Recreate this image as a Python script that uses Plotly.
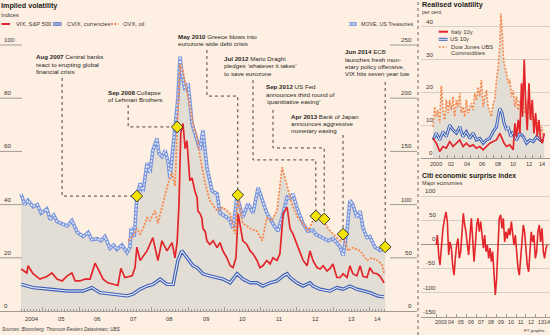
import plotly.graph_objects as go

# ---------------- DATA ----------------
# Main chart (implied volatility), dates as decimal years
vix_dates = [2004.40, 2004.56, 2004.59, 2004.73, 2004.92, 2005.11, 2005.25, 2005.39, 2005.53, 2005.67,
             2005.80, 2005.89, 2006.02, 2006.16, 2006.30, 2006.44, 2006.52, 2006.66, 2006.79, 2006.93,
             2007.07, 2007.15, 2007.26, 2007.46, 2007.54, 2007.59, 2007.68, 2007.87, 2008.03, 2008.17,
             2008.28, 2008.42, 2008.56, 2008.64, 2008.70, 2008.75, 2008.80, 2008.86, 2008.92, 2008.97,
             2009.05, 2009.11, 2009.14, 2009.19, 2009.25, 2009.27, 2009.33, 2009.38, 2009.41, 2009.47,
             2009.52, 2009.60, 2009.69, 2009.80, 2009.88, 2009.96, 2010.07, 2010.16, 2010.24, 2010.32,
             2010.38, 2010.43, 2010.51, 2010.62, 2010.71, 2010.79, 2010.90, 2010.98, 2011.06, 2011.17,
             2011.26, 2011.34, 2011.45, 2011.53, 2011.62, 2011.73, 2011.81, 2011.89, 2012.00, 2012.08,
             2012.17, 2012.28, 2012.36, 2012.44, 2012.55, 2012.64, 2012.72, 2012.83, 2012.91, 2012.99,
             2013.10, 2013.19, 2013.27, 2013.38, 2013.46, 2013.54, 2013.65, 2013.74, 2013.82, 2013.93,
             2014.01, 2014.10, 2014.21, 2014.29, 2014.40]
vix = [15.8, 14.3, 17.0, 14.0, 12.0, 13.0, 14.3, 12.0, 11.3, 13.2,
       14.3, 11.3, 11.3, 12.0, 12.0, 18.0, 15.8, 12.0, 10.6, 10.0,
       9.6, 16.0, 12.6, 13.2, 16.3, 24.0, 19.0, 22.6, 27.6, 19.0,
       26.4, 22.6, 25.7, 20.0, 26.0, 40.0, 67.0, 70.5, 61.0, 64.0,
       49.0, 50.0, 48.0, 45.0, 42.6, 37.7, 36.6, 35.0, 31.0, 30.0,
       26.4, 25.0, 26.4, 23.8, 25.7, 22.6, 20.0, 17.0, 16.3, 20.0,
       36.6, 33.0, 26.4, 25.0, 22.6, 21.5, 19.0, 16.3, 17.0, 19.0,
       17.7, 20.0, 19.0, 21.5, 36.6, 39.0, 31.0, 29.0, 25.0, 22.6,
       19.0, 17.0, 22.6, 19.0, 16.3, 15.8, 17.0, 15.0, 16.0, 17.7,
       12.6, 12.6, 14.0, 12.6, 17.0, 14.0, 13.2, 17.0, 13.0, 12.6,
       16.3, 14.3, 14.0, 13.0, 10.6]

cvix_dates = [2004.40, 2004.73, 2005.20, 2005.67, 2006.11, 2006.35, 2006.57, 2007.04, 2007.32, 2007.48,
              2007.68, 2007.87, 2008.03, 2008.23, 2008.42, 2008.59, 2008.72, 2008.83, 2008.97, 2009.14,
              2009.25, 2009.41, 2009.60, 2009.80, 2009.96, 2010.16, 2010.35, 2010.51, 2010.71, 2010.90,
              2011.06, 2011.26, 2011.45, 2011.62, 2011.73, 2011.81, 2012.00, 2012.17, 2012.36, 2012.44,
              2012.64, 2012.91, 2013.10, 2013.27, 2013.46, 2013.65, 2013.82, 2014.01, 2014.21, 2014.40]
cvix = [10.0, 8.8, 8.2, 7.5, 7.5, 8.8, 6.9, 6.3, 5.7, 6.3,
        8.2, 9.4, 10.0, 12.0, 10.0, 10.0, 19.0, 22.6, 20.0, 17.0,
        16.3, 14.0, 13.2, 12.6, 12.0, 10.6, 14.0, 12.0, 10.6, 10.6,
        9.4, 10.6, 11.3, 13.2, 14.0, 12.6, 10.6, 9.4, 10.6, 9.4,
        8.2, 7.5, 8.8, 8.2, 9.4, 8.2, 7.5, 6.9, 5.7, 5.3]

ovx_dates = [2007.35, 2007.48, 2007.59, 2007.68, 2007.76, 2007.87, 2007.95, 2008.09, 2008.17, 2008.28,
             2008.37, 2008.45, 2008.56, 2008.64, 2008.70, 2008.78, 2008.86, 2008.97, 2009.05, 2009.14,
             2009.25, 2009.33, 2009.41, 2009.47, 2009.55, 2009.60, 2009.80, 2009.96, 2010.16, 2010.29,
             2010.38, 2010.51, 2010.71, 2010.90, 2011.04, 2011.17, 2011.31, 2011.45, 2011.59, 2011.67,
             2011.75, 2011.89, 2012.03, 2012.17, 2012.30, 2012.44, 2012.55, 2012.72, 2012.86, 2012.99,
             2013.19, 2013.27, 2013.41, 2013.54, 2013.74, 2013.93, 2014.07, 2014.21, 2014.34, 2014.40]
ovx = [26.4, 28.0, 31.0, 29.0, 31.0, 35.0, 34.0, 37.7, 33.0, 39.0,
       44.0, 48.0, 52.0, 47.0, 68.0, 93.0, 90.0, 83.0, 77.0, 70.0,
       65.0, 58.0, 52.0, 48.0, 44.0, 41.5, 37.7, 39.0, 36.6, 29.0,
       42.3, 33.0, 31.0, 30.0, 26.4, 35.0, 34.0, 37.7, 54.0, 50.0,
       46.0, 39.0, 35.0, 33.0, 30.0, 34.0, 36.0, 34.0, 31.0, 29.0,
       26.4, 28.3, 22.6, 23.8, 22.6, 19.0, 20.0, 19.0, 17.7, 14.3]

move_dates = [2004.40, 2004.50, 2004.59, 2004.73, 2004.85, 2004.95, 2005.11, 2005.20, 2005.30, 2005.39,
              2005.53, 2005.67, 2005.80, 2005.95, 2006.11, 2006.25, 2006.35, 2006.50, 2006.60, 2006.71,
              2006.85, 2006.95, 2007.04, 2007.18, 2007.32, 2007.40, 2007.43, 2007.52, 2007.59, 2007.68,
              2007.76, 2007.87, 2007.95, 2008.03, 2008.14, 2008.20, 2008.28, 2008.37, 2008.45, 2008.50,
              2008.64, 2008.72, 2008.78, 2008.83, 2008.92, 2009.00, 2009.11, 2009.25, 2009.33, 2009.41,
              2009.52, 2009.66, 2009.80, 2009.88, 2010.07, 2010.16, 2010.24, 2010.35, 2010.51, 2010.65,
              2010.79, 2010.93, 2011.04, 2011.17, 2011.34, 2011.48, 2011.62, 2011.73, 2011.81, 2011.89,
              2012.00, 2012.17, 2012.30, 2012.44, 2012.52, 2012.64, 2012.75, 2012.86, 2013.00, 2013.19,
              2013.27, 2013.38, 2013.46, 2013.54, 2013.65, 2013.74, 2013.82, 2013.93, 2014.01, 2014.15,
              2014.29, 2014.43]
move = [110, 100, 104, 98, 100, 92, 96, 86, 90, 84,
        82, 80, 85, 74, 70, 74, 67, 68, 66, 70,
        59, 62, 58, 62, 55, 60, 78, 70, 108, 120,
        112, 139, 130, 151, 162, 148, 145, 151, 140, 125,
        172, 200, 239, 223, 207, 214, 176, 160, 151, 170,
        135, 113, 110, 92, 88, 85, 78, 108, 88, 101,
        92, 116, 104, 92, 82, 75, 92, 107, 106, 110,
        97, 82, 75, 76, 72, 70, 68, 66, 68, 60,
        52, 75, 104, 100, 88, 94, 78, 69, 70, 60,
        57, 60]

main_left_ticks = [0, 20, 40, 60, 80, 100]
main_right_ticks = [0, 50, 100, 150, 200, 250]
main_years = list(range(2004, 2015))
main_year_labels = ["2004", "05", "06", "07", "08", "09", "10", "11", "12", "13", "14"]

event_dates = [2007.59, 2008.70, 2010.37, 2012.52, 2012.75, 2013.27, 2014.43]
event_vals = [43.2, 69.2, 43.6, 35.7, 34.6, 28.9, 24.1]
event_titles = ["Aug 2007", "Sep 2008", "May 2010", "Jul 2012", "Sep 2012", "Apr 2013", "Jun 2014"]
event_texts = [
    ["Central banks", "react to erupting global", "financial crisis"],
    ["Collapse", "of Lehman Brothers"],
    ["Greece blows into", "eurozone wide debt crisis"],
    ["Mario Draghi", "pledges \u2018whatever it takes\u2019", "to save eurozone"],
    ["US Fed", "announces third round of", "\u2018quantitative easing\u2019"],
    ["Bank of Japan", "announces aggressive", "monetary easing"],
    ["ECB", "launches fresh mon-", "etary policy offensive,", "VIX hits seven year low"],
]

# Realised volatility panel
dj_dates = [2000.19, 2000.41, 2000.62, 2000.83, 2001.05, 2001.26, 2001.47, 2001.69, 2001.90,
            2002.12, 2002.33, 2002.54, 2002.76, 2002.97, 2003.19, 2003.40, 2003.62, 2003.83,
            2004.04, 2004.26, 2004.47, 2004.69, 2005.11, 2005.33, 2005.54, 2005.76, 2005.97,
            2006.19, 2006.40, 2006.62, 2006.83, 2007.04, 2007.26, 2007.47, 2007.69, 2007.90,
            2008.12, 2008.33, 2008.55, 2008.76, 2008.89, 2009.06, 2009.23, 2009.40, 2009.62, 2009.83,
            2010.04, 2010.26, 2010.47, 2010.69, 2010.90, 2011.12, 2011.33, 2011.54, 2011.76, 2011.97,
            2012.19, 2012.40, 2012.62, 2012.83, 2013.05, 2013.26, 2013.48, 2013.69, 2013.90,
            2014.12, 2014.33]
djubs = [9.5, 15.6, 12.6, 14.6, 10.6, 22.0, 14.6, 11.6, 17.7,
         13.7, 17.7, 14.6, 18.7, 12.6, 17.7, 15.6, 19.7, 13.7,
         15.6, 12.6, 17.7, 13.7, 16.7, 14.6, 19.7, 17.7, 21.7,
         18.7, 23.8, 15.6, 18.7, 20.7, 15.6, 13.7, 12.6, 16.7,
         17.7, 23.8, 27.8, 34.0, 44.0, 39.0, 30.0, 27.8, 25.8, 22.8,
         23.8, 18.7, 20.7, 15.6, 18.7, 14.6, 17.7, 15.6, 17.7, 13.7,
         15.6, 17.7, 12.6, 11.6, 12.6, 9.5, 11.6, 9.5, 7.5,
         9.5, 6.5]

us10_dates = [2000.19, 2000.62, 2001.05, 2001.47, 2001.90, 2002.33, 2002.76, 2003.19, 2003.62, 2004.04,
              2004.47, 2004.90, 2005.33, 2005.76, 2006.19, 2006.62, 2007.04, 2007.47, 2007.90, 2008.33,
              2008.55, 2008.76, 2009.06, 2009.31, 2009.62, 2009.83, 2010.17, 2010.47, 2010.90, 2011.33,
              2011.76, 2012.19, 2012.62, 2013.05, 2013.48, 2013.90, 2014.33]
us10 = [5.5, 7.6, 5.5, 8.0, 6.5, 10.0, 8.5, 7.6, 9.5, 6.5,
        8.0, 6.0, 7.6, 5.5, 6.0, 4.5, 5.5, 6.0, 8.0, 9.5,
        12.6, 15.1, 13.6, 10.6, 8.5, 9.5, 6.5, 8.0, 5.5, 7.5,
        6.5, 4.5, 5.5, 5.0, 6.5, 5.5, 5.0]

italy_dates = [2000.19, 2000.62, 2001.05, 2001.47, 2001.90, 2002.33, 2002.76, 2003.19, 2003.62, 2004.04,
               2004.47, 2004.90, 2005.33, 2005.76, 2006.19, 2006.62, 2007.04, 2007.47, 2007.90, 2008.33,
               2008.76, 2009.06, 2009.31, 2009.62, 2010.04, 2010.47, 2010.69, 2010.90, 2011.12, 2011.33,
               2011.54, 2011.67, 2011.89, 2012.06, 2012.27, 2012.49, 2012.70, 2012.92, 2013.13, 2013.35,
               2013.56, 2013.78, 2013.99, 2014.20, 2014.46]
italy = [6.0, 4.5, 2.0, 3.5, 3.0, 5.0, 3.5, 4.5, 5.5, 3.5,
         4.5, 3.5, 4.0, 3.0, 3.5, 2.5, 3.5, 4.5, 5.0, 5.5,
         7.5, 6.0, 4.5, 3.5, 4.0, 2.5, 10.6, 6.5, 11.6, 7.5,
         22.8, 12.6, 30.0, 17.7, 8.5, 22.8, 11.6, 17.7, 7.5, 13.7,
         6.5, 11.6, 5.5, 4.5, 7.5]

rv_y_ticks = [0, 10, 20, 30, 40]
rv_years = list(range(2000, 2015, 2))
rv_year_labels = ["2000", "02", "04", "06", "08", "10", "12", "14"]

# Citi economic surprise index
citi_dates = [2002.99,
              2003.09, 2003.23, 2003.36, 2003.49, 2003.66, 2003.83, 2003.96,
              2004.10, 2004.23, 2004.36, 2004.50, 2004.63, 2004.77, 2004.90,
              2005.03, 2005.17, 2005.30, 2005.44, 2005.57, 2005.70, 2005.84, 2005.97,
              2006.11, 2006.24, 2006.38, 2006.51, 2006.64, 2006.78, 2006.91,
              2007.05, 2007.18, 2007.31, 2007.45, 2007.58, 2007.72, 2007.85, 2007.98,
              2008.12, 2008.25, 2008.39, 2008.52, 2008.65, 2008.79, 2008.92,
              2009.05, 2009.19, 2009.32, 2009.46, 2009.59, 2009.72, 2009.86, 2009.99,
              2010.12, 2010.26, 2010.39, 2010.53, 2010.66, 2010.79, 2010.93,
              2011.06, 2011.20, 2011.33, 2011.46, 2011.60, 2011.73, 2011.86,
              2012.00, 2012.13, 2012.27, 2012.40, 2012.53, 2012.67, 2012.80, 2012.94,
              2013.07, 2013.20, 2013.34, 2013.47, 2013.61, 2013.74, 2013.87,
              2014.01, 2014.14]
citi = [-1.5,
        19, -22, -43, -8, 33, 54, 67,
        47, -22, 5, -8, -43, -64, -29,
        -1.5, 12, -29, -15, 40, 64, 40, 26,
        -1.5, -22, 19, 54, 12, -36, -1.5,
        40, 54, 26, 47, 12, -8, 19, -15,
        -1.5, -29, -8, -36, -15, -57, -105,
        -70, -8, 54, 61, 33, 54, 5, 26,
        12, 33, 19, 47, 26, -1.5, 19,
        -15, -50, -64, -29, 5, 40, 26,
        -8, -43, -57, -8, 26, 5, 19, -29,
        -15, 26, 40, 5, 33, -15, -29,
        -8, -1.5]

citi_y_ticks = [-150, -100, -50, 0, 50, 100]
citi_years = list(range(2003, 2015))
citi_year_labels = ["2003", "04", "05", "06", "07", "08", "09", "10", "11", "12", "13", "14"]

# ---------------- STYLE / LAYOUT HELPERS ----------------
W, H = 550, 335
def X(px): return px / W
def Y(py): return 1 - py / H

BG = "#fdf0e2"
GREY = "#e3ded5"
RED = "#e2262b"
BLUE = "#3c5db6"
BLUE_IN = "#e8ecf8"
MOVEC = "#7b96dc"
MOVE_IN = "#eef1fa"
ORANGE = "#f6874d"
TXT = "#3a3633"
DARK = "#1f1c1a"
AX = "#a09a93"
GRID = "#d5cec5"
FONT = "Liberation Sans Narrow, Liberation Sans, Arial, sans-serif"
ODASH = "2px,1.5px"
S_BODY = 6.2     # event text
S_AXIS = 6.2     # axis numbers
S_LEG = 5.8      # legend text
S_TITLE = 7.2

# pixel <-> axis mappings (layout geometry)
def mx(px): return 2005.5 + (px - 61) / 36.3      # main chart year at pixel
MAIN_BOT, MAIN_TOP, MAIN_PPU = 311, 28, 2.66
main_ytop = (MAIN_BOT - MAIN_TOP) / MAIN_PPU
MOVE_SCALE = 2.5
def rx(px): return 2000.5 + (px - 435.4) / 7.8    # realised panel
RV_BOT, RV_TOP, RV_PPU = 158, 10, 3.28
def cx(px): return 2003.5 + (px - 441.4) / 9.95   # citi panel
C_ZERO, C_PPU, C_TOP = 244.3, 0.4828, 186

fig = go.Figure()

def fill_tr(x, y, xa, ya):
    fig.add_trace(go.Scatter(x=x, y=y, xaxis=xa, yaxis=ya, mode="lines",
                             line=dict(width=0, color=GREY), fill="tozeroy",
                             fillcolor=GREY, hoverinfo="skip", showlegend=False))

def line_tr(x, y, xa, ya, color, width, dash="solid"):
    fig.add_trace(go.Scatter(x=x, y=y, xaxis=xa, yaxis=ya, mode="lines",
                             line=dict(color=color, width=width, dash=dash),
                             hoverinfo="skip", showlegend=False))

# ---- main chart ----
fill_tr(ovx_dates, ovx, "x", "y")
fill_tr(vix_dates, vix, "x", "y")
fill_tr(move_dates, move, "x", "y2")
line_tr(move_dates, move, "x", "y2", MOVEC, 3.6)
line_tr(move_dates, move, "x", "y2", MOVE_IN, 1.3, "2px,1.6px")
line_tr(cvix_dates, cvix, "x", "y3", BLUE, 3.4)
line_tr(cvix_dates, cvix, "x", "y3", BLUE_IN, 1.1)
line_tr(ovx_dates, ovx, "x", "y3", ORANGE, 1.8, ODASH)
line_tr(vix_dates, vix, "x", "y3", RED, 1.7)

# leader lines (annotation geometry, data coords), ending at each event diamond
leader_paths = [
    [(2005.53, 87.6), (2005.53, 43.2)],
    [(2007.35, 77.4), (2007.35, 69.2)],
    [(2009.52, 98.1), (2009.52, 80.8), (2010.37, 80.8)],
    [(2010.79, 86.8), (2010.79, 56.8), (2012.52, 56.8)],
    [(2011.34, 75.6), (2011.34, 61.3), (2012.75, 61.3)],
    [(2013.27, 66.2)],
    [(2014.43, 86.1)],
]
lx, ly = [], []
for path, d, v in zip(leader_paths, event_dates, event_vals):
    for (a, b) in path:
        lx.append(a); ly.append(b)
    lx += [d, None]; ly += [v, None]
fig.add_trace(go.Scatter(x=lx, y=ly, xaxis="x", yaxis="y3", mode="lines",
                         line=dict(color="#4a4643", width=1, dash="dot"),
                         hoverinfo="skip", showlegend=False))
fig.add_trace(go.Scatter(x=event_dates, y=event_vals, xaxis="x", yaxis="y3", mode="markers",
                         marker=dict(symbol="diamond", size=9, color="#f3e300",
                                     line=dict(color="#3a3a3a", width=1)),
                         cliponaxis=False, hoverinfo="skip", showlegend=False))

# ---- realised volatility ----
fill_tr(dj_dates, djubs, "x2", "y4")
fill_tr(italy_dates, italy, "x2", "y4")
fill_tr(us10_dates, us10, "x2", "y4")
line_tr(dj_dates, djubs, "x2", "y4", ORANGE, 1.6, ODASH)
line_tr(us10_dates, us10, "x2", "y4", BLUE, 3.0)
line_tr(us10_dates, us10, "x2", "y4", BLUE_IN, 1.0)
line_tr(italy_dates, italy, "x2", "y4", RED, 1.7)

# ---- citi ----
line_tr(citi_dates, citi, "x3", "y5", RED, 1.6)

# ---------------- axes ----------------
m_start, m_end = vix_dates[0], move_dates[-1]
main_months = [y + m / 12 for y in range(2004, 2015) for m in range(12)
               if m_start <= y + m / 12 <= m_end]
main_major = [y for y in main_years if m_start <= y <= m_end]

r_start, r_end = dj_dates[0], italy_dates[-1]
c_start, c_end = citi_dates[0], citi_dates[-1]

fig.update_layout(
    width=W, height=H, margin=dict(l=0, r=0, t=0, b=0),
    paper_bgcolor=BG, plot_bgcolor=BG, showlegend=False,
    xaxis=dict(domain=[X(0), X(417)], range=[mx(0), mx(417)], anchor="y",
               showgrid=False, zeroline=False, showline=True, linecolor=AX, linewidth=1,
               ticks="inside", tickvals=main_major, ticklen=4, tickcolor=AX, tickwidth=1,
               showticklabels=False,
               minor=dict(tickmode="array", tickvals=main_months, ticks="inside",
                          ticklen=2, tickcolor=AX, tickwidth=1)),
    yaxis=dict(domain=[Y(MAIN_BOT), Y(MAIN_TOP)], range=[0, main_ytop], visible=False, anchor="x"),
    yaxis2=dict(overlaying="y", range=[0, main_ytop * MOVE_SCALE], visible=False, anchor="x"),
    yaxis3=dict(overlaying="y", range=[0, main_ytop], visible=False, anchor="x"),
    xaxis2=dict(domain=[X(421), X(550)], range=[rx(421), rx(550)], anchor="y4",
                showgrid=False, zeroline=False, showline=True, linecolor=AX,
                ticks="inside", tickvals=[y for y in range(2000, 2015) if r_start <= y <= r_end],
                ticklen=3, tickcolor=AX, showticklabels=False),
    yaxis4=dict(domain=[Y(RV_BOT), Y(RV_TOP)], range=[0, (RV_BOT - RV_TOP) / RV_PPU], anchor="x2",
                tickvals=rv_y_ticks, showgrid=True, gridcolor=GRID, gridwidth=1,
                zeroline=False, showticklabels=False, ticks=""),
    xaxis3=dict(domain=[X(421), X(550)], range=[cx(421), cx(550)], anchor="y5",
                showgrid=False, zeroline=False, showline=True, linecolor=AX,
                ticks="inside", tickvals=[y for y in range(2003, 2015) if c_start <= y <= c_end],
                ticklen=3, tickcolor=AX, showticklabels=False),
    yaxis5=dict(domain=[Y(C_ZERO + 150 * C_PPU), Y(C_TOP)],
                range=[-150, (C_ZERO - C_TOP) / C_PPU], anchor="x3",
                tickvals=citi_y_ticks, showgrid=True, gridcolor=GRID, gridwidth=1,
                zeroline=True, zerolinecolor="#97918a", zerolinewidth=1,
                showticklabels=False, ticks=""),
)

# ---------------- shapes ----------------
shapes = []
for v in main_left_ticks[1:]:
    shapes.append(dict(type="line", xref="paper", yref="y", x0=X(0), x1=X(22), y0=v, y1=v,
                       line=dict(color=AX, width=1)))
for v in main_right_ticks[1:]:
    shapes.append(dict(type="line", xref="paper", yref="y2", x0=X(390), x1=X(417), y0=v, y1=v,
                       line=dict(color=AX, width=1)))
shapes.append(dict(type="line", xref="paper", yref="paper", x0=X(418), x1=X(418), y0=0, y1=1,
                   line=dict(color="#6b6662", width=1, dash="dot")))

def leg(x0, x1, py, color, width, dash="solid"):
    shapes.append(dict(type="line", xref="paper", yref="paper", x0=X(x0), x1=X(x1),
                       y0=Y(py), y1=Y(py), line=dict(color=color, width=width, dash=dash)))

leg(1.5, 10, 24, RED, 2)
leg(53, 61.5, 24, BLUE, 3.4); leg(53, 61.5, 24, BLUE_IN, 1.1)
leg(111, 118.5, 24, ORANGE, 1.8, ODASH)
leg(349, 357, 24, MOVEC, 3.6); leg(349, 357, 24, MOVE_IN, 1.3, "2px,1.6px")
leg(438.7, 448, 31.7, RED, 2)
leg(438.7, 447.5, 39.3, BLUE, 3.0); leg(438.7, 447.5, 39.3, BLUE_IN, 1.0)
leg(438.7, 446.5, 47, ORANGE, 1.6, ODASH)
fig.update_layout(shapes=shapes)

# ---------------- annotations ----------------
ann = []
def txt(s, px, py, size=S_BODY, anchor="left", color=TXT):
    ann.append(dict(text=s, x=X(px), y=Y(py), xref="paper", yref="paper", xanchor=anchor,
                    yanchor="middle", showarrow=False, font=dict(family=FONT, size=size, color=color)))

# titles & legends
txt("<b>Implied volatility</b>", -1, 5.5, S_TITLE, color=DARK)
txt("Indices", -1, 15, 5.6)
txt("VIX, S&P 500", 13.5, 24, S_LEG)
txt("CVIX, currencies", 64.5, 24, S_LEG)
txt("OVX, oil", 120.5, 24, S_LEG)
txt("MOVE, US Treasuries", 358.5, 24, 5.3)
txt("<b>Realised volatility</b>", 419.5, 4.5, S_TITLE, color=DARK)
txt("per cent", 419.5, 11.7, 5.3)
txt("Italy 10y", 448.5, 31.7, S_LEG)
txt("US 10y", 447.5, 39.3, S_LEG)
txt("Dow Jones UBS", 448.5, 46.7, S_LEG)
txt("Commodities", 448.5, 53.3, S_LEG)
txt("<b>Citi economic surprise index</b>", 419.5, 175.5, 6.9, color=DARK)
txt("Major economies", 419.5, 182.5, 5.3)
txt("<i>Sources: Bloomberg; Thomson Reuters Datastream; UBS</i>", 0, 329.5, 4.6)
txt("FT graphic", 548, 330, 4.4, anchor="right")

# event labels
label_pos = [(35, 57), (107, 92.3), (177, 36), (223, 58.3), (265, 86.7), (290, 116), (344, 51.7)]
LINE_STEP = 7.4
for (px, py), title, lines in zip(label_pos, event_titles, event_texts):
    for k, s in enumerate(lines):
        t = ("<b>%s</b> %s" % (title, s)) if k == 0 else s
        txt(t, px - 1.5, py + k * LINE_STEP, S_BODY, color="#2a2725")

def axlab(text, x, y, xref, yref, xanchor, yanchor, size=S_AXIS):
    ann.append(dict(text=text, x=x, y=y, xref=xref, yref=yref, xanchor=xanchor,
                    yanchor=yanchor, showarrow=False, font=dict(family=FONT, size=size, color=TXT)))

# axis labels (main)
for v in main_left_ticks:
    axlab(str(v), X(2), v, "paper", "y", "left", "bottom")
for v in main_right_ticks:
    axlab(str(v), X(414), v, "paper", "y2", "right", "bottom")
for y, lab in zip(main_years, main_year_labels):
    pos = (max(y, m_start) + min(y + 1, m_end)) / 2
    axlab(lab, pos, Y(318.5), "x", "paper", "center", "middle", 5.9)

# realised labels
for v in rv_y_ticks:
    axlab(str(v), X(434.5), v, "paper", "y4", "right", "bottom")
for y, lab in zip(rv_years, rv_year_labels):
    pos = (max(y, r_start) + min(y + 1, r_end)) / 2
    axlab(lab, pos, Y(163.5), "x2", "paper", "center", "middle", 5.5)

# citi labels
for v in citi_y_ticks:
    axlab(str(v), X(438), v, "paper", "y5", "right", "bottom")
for y, lab in zip(citi_years, citi_year_labels):
    pos = (max(y, c_start) + min(y + 1, c_end)) / 2
    axlab(lab, pos, Y(321.7), "x3", "paper", "center", "middle", 5.3)

fig.update_layout(annotations=ann)
fig.write_html("out.html")
